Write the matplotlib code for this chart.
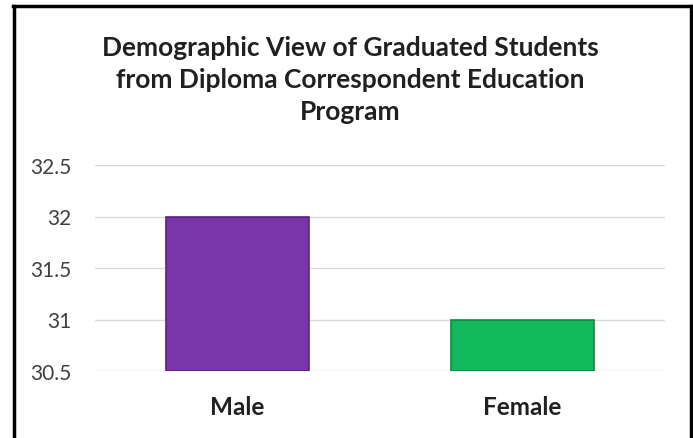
import matplotlib.pyplot as plt

# Data
categories = ["Male", "Female"]
values = [32, 31]
bar_colors = ["#7A35A8", "#12B95A"]
edge_colors = ["#5A2380", "#0C8A42"]
y_ticks = [30.5, 31, 31.5, 32, 32.5]
y_tick_labels = ["30.5", "31", "31.5", "32", "32.5"]

plt.rcParams['font.family'] = ['Lato', 'DejaVu Sans']

fig = plt.figure(figsize=(6.93, 4.39), dpi=100)
fig.patch.set_facecolor("white")

# outer frame
fig.add_artist(plt.Line2D([13.5 / 693, 13.5 / 693], [0, 1 - 7 / 439], color="black", lw=2.5, transform=fig.transFigure))
fig.add_artist(plt.Line2D([13 / 693, 691 / 693], [1 - 7 / 439, 1 - 7 / 439], color="black", lw=2.5, transform=fig.transFigure))
fig.add_artist(plt.Line2D([691 / 693, 691 / 693], [0, 1 - 7 / 439], color="black", lw=2.5, transform=fig.transFigure))

ax = fig.add_axes([95 / 693, 1 - 372 / 439, 570 / 693, 206 / 439])
x = range(len(categories))
ax.bar(x, [v - 30.5 for v in values], bottom=30.5, width=0.5,
       color=bar_colors, edgecolor=edge_colors, linewidth=1.2, zorder=3)
ax.set_xlim(-0.5, 1.5)
ax.set_ylim(30.5, 32.5)
ax.set_yticks(y_ticks)
ax.set_yticklabels(y_tick_labels, fontsize=15, color="#404040")
ax.set_xticks(list(x))
ax.set_xticklabels(categories, fontsize=17.5, fontweight="bold", color="#202020")
ax.tick_params(axis="both", length=0)
ax.tick_params(axis="y", pad=17)
ax.tick_params(axis="x", pad=17)
ax.grid(axis="y", color="#D9D9D9", lw=1, zorder=0)
for s in ax.spines.values():
    s.set_visible(False)

fig.text(0.506, 1 - 80 / 439, "Demographic View of Graduated Students\nfrom Diploma Correspondent Education\nProgram",
         ha="center", va="center", fontsize=19, fontweight="bold", color="#202020", linespacing=1.42)

fig.savefig("out.png", dpi=100)
